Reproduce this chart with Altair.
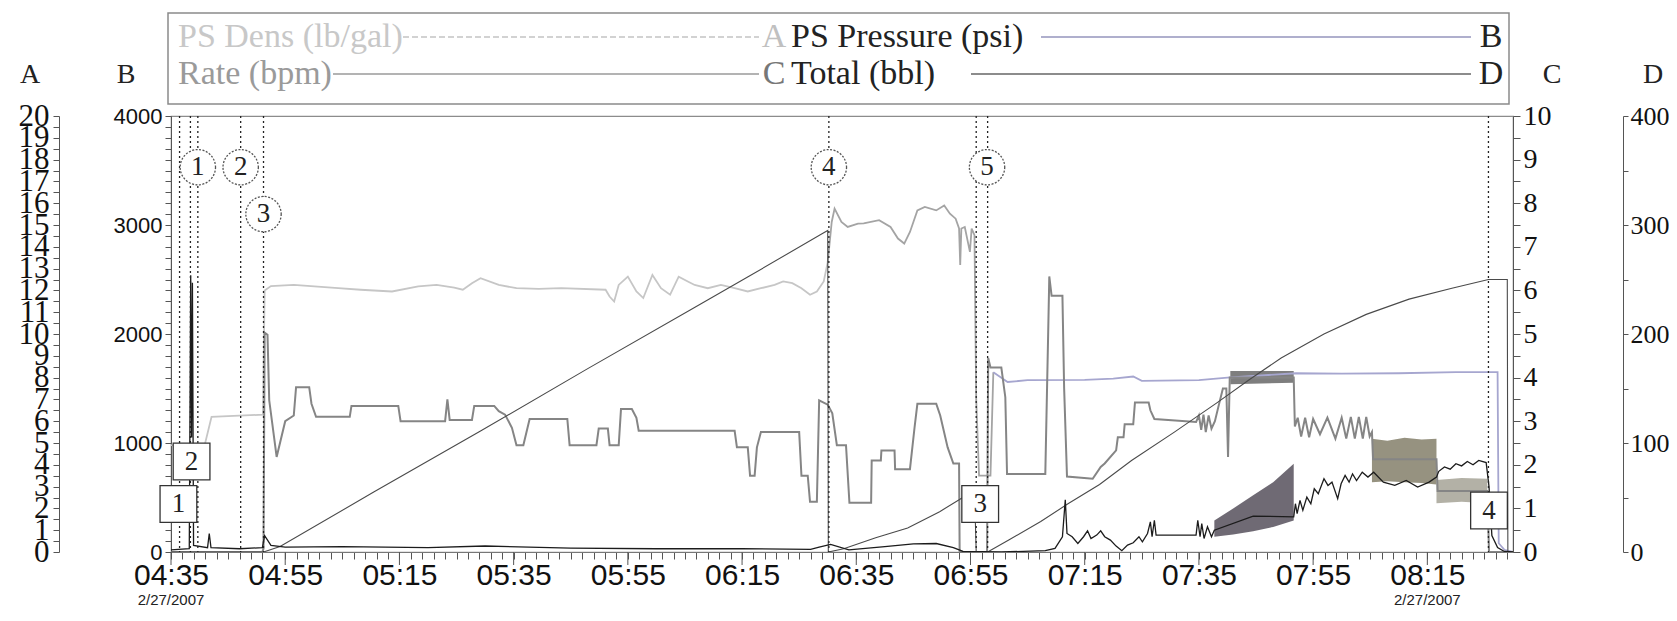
import altair as alt
import pandas as pd

T0 = 275  # 04:35 expressed in minutes after midnight

# ---------------- values ----------------
# all times: minutes after 04:35 on 2/27/2007
dens_lead_t = [0.0, 5.8, 7.1, 16.1, 16.4, 17.5, 21.5, 29.3, 33.2, 38.7, 43.3, 46.5, 49.6, 51.1, 52.7, 54.2,
               57.4, 60.5, 64.4, 68.3, 76.1, 76.8, 77.6, 78.4, 80.0, 81.5, 82.7, 84.3, 85.8, 87.4, 88.9, 90.5,
               91.7, 94.0, 96.3, 98.7, 101.0, 103.3, 105.7, 107.2, 108.8, 110.4, 111.9, 113.1, 114.3, 115.0]
dens_lead_v = [4.9, 4.8, 6.2, 6.3, 12.0, 12.2, 12.25, 12.1, 12.03, 11.95, 12.18, 12.25, 12.13, 12.03, 12.33, 12.56,
               12.25, 12.1, 12.07, 12.1, 12.03, 11.72, 11.49, 12.25, 12.63, 11.95, 11.65, 12.71, 12.1, 11.8, 12.63, 12.41,
               12.25, 12.1, 12.25, 12.1, 11.95, 12.1, 12.25, 12.41, 12.33, 12.1, 11.8, 11.95, 12.41, 13.3]
dens_tail_t = [115.0, 115.7, 116.2, 117.4, 118.5, 120.3, 121.3, 124.0, 126.0, 127.3, 128.4, 129.4, 130.7, 132.0,
               134.0, 135.4, 136.4, 137.4, 138.0, 138.2, 138.4, 139.0, 139.9, 140.2, 140.7, 141.0, 141.5, 143.5, 144.0]
dens_tail_v = [13.3, 15.14, 15.75, 15.14, 14.91, 15.06, 15.07, 15.22, 14.91, 14.38, 14.15, 14.68, 15.67, 15.83,
               15.67, 15.9, 15.52, 15.29, 14.84, 13.17, 14.84, 14.91, 13.77, 14.84, 14.53, 7.0, 3.5, 3.5, 8.25]
dens_water_t = [144.0, 146.5, 150.0, 160.0, 165.0, 168.5, 170.0, 180.0, 185.0, 197.0, 205.0, 215.0, 225.0,
                232.3, 232.5, 233.5, 235.0]
dens_water_v = [8.25, 7.8, 7.88, 7.9, 7.95, 8.05, 7.85, 7.88, 8.0, 8.2, 8.18, 8.2, 8.25, 8.25, 0.4, 0.1, 0.0]

pressure_pts = [
    (0.0, 20), (3.2, 30), (3.45, 2540), (3.6, 1050), (3.75, 2470), (3.95, 60), (6.4, 40), (6.7, 170), (7.0, 40),
    (12.0, 30), (16.0, 40), (16.4, 150), (17.5, 60), (20.0, 45), (30.0, 50), (45.0, 40), (55.0, 55), (70.0, 35),
    (85.0, 30), (100.0, 30), (112.0, 25), (113.5, 45), (115.5, 70), (118.7, 20), (125.0, 50), (130.0, 75),
    (134.0, 78), (137.0, 40), (138.7, 5), (145.4, 0), (153.1, 12), (154.8, 33), (156.1, 140), (156.6, 480),
    (156.9, 170), (157.8, 140), (158.8, 79), (159.8, 140), (160.5, 194), (161.1, 124), (162.1, 155), (162.8, 194),
    (163.5, 140), (164.5, 109), (165.5, 54), (166.5, 12), (167.5, 63), (168.5, 85), (169.5, 140), (170.1, 94),
    (171.0, 170), (171.5, 276), (171.8, 140), (172.2, 291), (172.5, 155), (179.5, 155), (179.8, 291), (180.2, 140),
    (180.5, 261), (180.9, 124), (181.5, 231), (182.2, 140), (182.7, 200), (189.5, 330), (196.6, 322), (196.9, 443),
    (197.2, 352), (197.7, 474), (198.2, 383), (198.9, 504), (199.6, 443), (200.2, 580), (200.9, 535), (201.9, 672),
    (202.6, 611), (203.3, 641), (204.3, 489), (204.9, 626), (205.6, 702), (206.3, 641), (206.9, 717), (207.6, 656),
    (208.6, 732), (209.6, 687), (210.6, 732), (212.3, 641), (214.3, 611), (216.3, 656), (218.3, 596), (220.3, 641),
    (221.6, 687), (222.0, 740), (223.0, 780), (224.0, 760), (225.0, 810), (226.0, 790), (227.0, 830), (228.0, 800),
    (229.0, 840), (230.3, 820), (230.8, 600), (231.3, 150), (232.3, 40), (233.5, 5), (235.0, 0)]

rate_pts = [
    (0.0, 0.0), (16.0, 0.0), (16.2, 0.08), (16.4, 5.03), (16.9, 4.98), (17.2, 3.48), (18.5, 2.18), (20.0, 3.0),
    (21.5, 3.13), (21.9, 3.78), (24.2, 3.78), (24.6, 3.4), (25.4, 3.1), (31.3, 3.1), (31.6, 3.35), (39.8, 3.35),
    (40.2, 3.0), (48.0, 3.0), (48.4, 3.5), (48.8, 3.03), (52.7, 3.03), (53.1, 3.35), (56.6, 3.35), (57.4, 3.23),
    (58.5, 3.15), (59.7, 2.85), (60.5, 2.45), (61.7, 2.45), (62.8, 3.05), (69.4, 3.05), (69.8, 2.45), (74.5, 2.45),
    (74.9, 2.83), (76.5, 2.83), (76.8, 2.45), (78.4, 2.45), (78.8, 3.28), (80.7, 3.28), (81.5, 3.08), (81.9, 2.78),
    (98.7, 2.78), (99.1, 2.4), (101.0, 2.4), (101.4, 1.75), (102.2, 1.75), (102.6, 2.4), (103.3, 2.75), (110.0, 2.75),
    (110.4, 1.75), (111.5, 1.75), (111.9, 1.15), (113.1, 1.15), (113.5, 3.48), (115.0, 3.38), (115.8, 3.18),
    (116.6, 2.45), (118.2, 2.45), (118.8, 1.13), (122.6, 1.13), (122.7, 2.1), (124.3, 2.1), (124.4, 2.33),
    (126.7, 2.33), (126.8, 1.9), (129.4, 1.9), (130.2, 2.85), (130.7, 3.4), (134.0, 3.4), (134.7, 3.13), (136.0, 2.4),
    (137.0, 2.03), (138.0, 2.03), (138.1, 0.0), (142.9, 0.0), (143.1, 4.45), (143.5, 4.23), (145.4, 4.23),
    (146.1, 3.55), (146.4, 1.79), (153.1, 1.79), (153.6, 5.0), (153.8, 6.32), (154.2, 5.88), (156.1, 5.88),
    (156.4, 3.75), (156.9, 1.73), (161.4, 1.68), (162.8, 1.95), (163.5, 2.03), (165.5, 2.33), (165.8, 2.63),
    (166.8, 2.63), (167.0, 2.93), (168.5, 2.93), (168.8, 3.43), (171.2, 3.43), (171.5, 3.25), (172.2, 3.05),
    (179.5, 2.98), (180.0, 3.13), (180.4, 2.8), (180.8, 3.15), (181.2, 2.75), (181.7, 3.13), (182.2, 2.83),
    (182.8, 3.0), (183.5, 3.38), (184.2, 3.75), (184.8, 3.75), (185.1, 2.18), (185.4, 4.0), (196.6, 4.0),
    (196.8, 2.88), (197.3, 3.08), (197.9, 2.65), (198.6, 3.08), (199.3, 2.63), (200.0, 3.05), (201.2, 2.7),
    (202.5, 3.08), (203.9, 2.6), (205.0, 3.08), (205.8, 2.6), (206.6, 3.1), (207.3, 2.6), (208.0, 3.1),
    (208.7, 2.6), (209.3, 3.1), (209.9, 2.65), (210.3, 2.75), (210.5, 2.13), (221.6, 2.13), (221.8, 1.4),
    (230.5, 1.4), (230.8, 0.0), (235.0, 0.0)]

total_pts = [
    (0.0, 0), (16.2, 0), (19.1, 5), (35.5, 55), (54.2, 111), (72.9, 168), (91.6, 224), (100.9, 252), (114.0, 292),
    (115.0, 295), (115.1, 0), (117.8, 3), (123.4, 13), (129.0, 22), (134.6, 37), (139.3, 52), (140.7, 57),
    (141.0, 0), (143.0, 0), (146.7, 11), (152.3, 28), (157.0, 44), (162.6, 62), (168.2, 84), (175.7, 110),
    (183.2, 137), (188.8, 158), (194.4, 178), (201.9, 200), (209.3, 218), (216.8, 232), (224.3, 242),
    (230.7, 250), (234.0, 250), (234.1, 0), (235.0, 0)]

# dense oscillation bands (bpm): group, time, low, high
rate_bands = [("b1", 185.5, 3.85, 4.15), ("b1", 196.6, 3.88, 4.15),
              ("b2", 210.3, 1.6, 2.6), ("b2", 213.0, 1.62, 2.55), ("b2", 216.0, 1.6, 2.62),
              ("b2", 219.0, 1.58, 2.58), ("b2", 221.6, 1.55, 2.6),
              ("b3", 221.6, 1.12, 1.65), ("b3", 226.0, 1.15, 1.7), ("b3", 230.5, 1.12, 1.68)]
# pressure oscillation band (psi): time, low, high
pressure_band = [(182.7, 140, 290), (186.0, 160, 400), (189.5, 190, 520), (193.0, 230, 640), (196.6, 290, 810)]

event_t = [1.5, 3.4, 4.7, 12.2, 16.2, 115.2, 141.0, 143.0, 230.7]
circle_lab = ["1", "2", "3", "4", "5"]
circle_t = [4.7, 12.2, 16.2, 115.2, 142.9]
circle_psi = [3530, 3530, 3100, 3530, 3530]
box_lab = ["1", "2", "3", "4"]
box_t = [1.3, 3.6, 141.7, 230.8]
box_psi = [440, 830, 440, 380]

major_ticks = [275, 295, 315, 335, 355, 375, 395, 415, 435, 455, 475, 495]
date_ticks = [275, 495]
date_text = "2/27/2007"

# ---------------- styling ----------------
W, H = 1342, 436
SANS = "Liberation Sans"
SERIF = "Liberation Serif"

XS = alt.Scale(domain=[275, 510], nice=False, zero=False)
hm = ("(floor(datum.value/60) < 10 ? '0' : '') + floor(datum.value/60) + ':' + "
      "(datum.value % 60 < 10 ? '0' : '') + (datum.value % 60)")
XAXIS = alt.Axis(values=list(range(275, 511, 2)),
                 labelExpr="(datum.value - 275) % 20 == 0 ? " + hm + " : ''",
                 tickSize=7, tickColor="#555", domainColor="#777", labelFont=SANS, labelFontSize=30,
                 labelColor="#111", labelPadding=1, labelOverlap=False, labelFlush=False, grid=False, title=None)


def X():
    return alt.X("m:Q", scale=XS, axis=XAXIS)


def Y(field, dom, axis=None):
    return alt.Y(field, type="quantitative", scale=alt.Scale(domain=dom, nice=False, zero=False), axis=axis)


def yaxis(orient, offset, values, expr, font, size, tick, pad):
    return alt.Axis(orient=orient, offset=offset, values=values, labelExpr=expr, labelFont=font,
                    labelFontSize=size, labelColor="#111", tickColor="#555", domainColor="#555",
                    tickSize=tick, labelPadding=pad, labelOverlap=False, labelFlush=False, grid=False, title=None)


axA = yaxis("left", 112, [i * 0.5 for i in range(41)], "datum.value % 1 == 0 ? format(datum.value, 'd') : ''",
            SERIF, 31, 6, 4)
axB = yaxis("left", 0, list(range(0, 4001, 100)), "datum.value % 1000 == 0 ? format(datum.value, 'd') : ''",
            SANS, 22, 6, 3)
axC = yaxis("right", 0, [i * 0.5 for i in range(21)], "datum.value % 1 == 0 ? format(datum.value, 'd') : ''",
            SERIF, 28, 7, 3)
axD = yaxis("right", 110, list(range(0, 401, 50)), "datum.value % 100 == 0 ? format(datum.value, 'd') : ''",
            SERIF, 26, 5, 2)


def series(ts, vs):
    return pd.DataFrame({"m": [T0 + t for t in ts], "v": vs})


def pts(p):
    return series([a for a, _ in p], [b for _, b in p])


A_DOM, B_DOM, C_DOM, D_DOM = [0, 20], [0, 4000], [0, 10], [0, 400]

layers = []

# bands
rb = pd.DataFrame(rate_bands, columns=["g", "t", "lo", "hi"])
rb["m"] = T0 + rb["t"]
layers.append(alt.Chart(rb).mark_area(opacity=0.9, clip=True).encode(
    x=X(), y=Y("lo", C_DOM), y2="hi",
    color=alt.Color("g:N", scale=alt.Scale(domain=["b1", "b2", "b3"], range=["#707070", "#8b8672", "#aba99c"]),
                    legend=None)))
pb = pd.DataFrame(pressure_band, columns=["t", "lo", "hi"])
pb["m"] = T0 + pb["t"]
layers.append(alt.Chart(pb).mark_area(color="#56505c", opacity=0.85, clip=True).encode(
    x=X(), y=Y("lo", B_DOM), y2="hi"))

# density (A axis)
layers.append(alt.Chart(series(dens_lead_t, dens_lead_v)).mark_line(color="#c6c6c6", strokeWidth=1.8, clip=True).encode(
    x=X(), y=Y("v", A_DOM, axA)))
layers.append(alt.Chart(series(dens_tail_t, dens_tail_v)).mark_line(color="#a4a4a4", strokeWidth=1.8, clip=True).encode(
    x=X(), y=Y("v", A_DOM)))
layers.append(alt.Chart(series(dens_water_t, dens_water_v)).mark_line(color="#a6a6cf", strokeWidth=1.8, clip=True).encode(
    x=X(), y=Y("v", A_DOM)))
# rate (C axis)
layers.append(alt.Chart(pts(rate_pts)).mark_line(color="#858585", strokeWidth=2, clip=True).encode(
    x=X(), y=Y("v", C_DOM, axC)))
# total (D axis)
layers.append(alt.Chart(pts(total_pts)).mark_line(color="#4a4a4a", strokeWidth=1.1, clip=True).encode(
    x=X(), y=Y("v", D_DOM, axD)))
# pressure (B axis)
layers.append(alt.Chart(pts(pressure_pts)).mark_line(color="#1c1c1c", strokeWidth=1.3, clip=True).encode(
    x=X(), y=Y("v", B_DOM, axB)))

# event markers
layers.append(alt.Chart(pd.DataFrame({"m": [T0 + t for t in event_t]})).mark_rule(
    color="#222", strokeDash=[2, 3], strokeWidth=1.3).encode(x=X()))

circ = pd.DataFrame({"m": [T0 + t for t in circle_t], "v": circle_psi, "lab": circle_lab})
layers.append(alt.Chart(circ).mark_point(shape="circle", size=1250, filled=True, color="white", opacity=1,
                                         stroke="#555", strokeWidth=1.3, strokeDash=[2, 1.5]).encode(
    x=X(), y=Y("v", B_DOM)))
layers.append(alt.Chart(circ).mark_text(font=SERIF, fontSize=27, color="#222", baseline="middle").encode(
    x=X(), y=Y("v", B_DOM), text="lab:N"))

boxes = pd.DataFrame({"m": [T0 + t for t in box_t], "v": box_psi, "lab": box_lab})
layers.append(alt.Chart(boxes).mark_point(shape="square", size=1350, filled=True, color="white", opacity=1,
                                          stroke="#333", strokeWidth=1.3).encode(x=X(), y=Y("v", B_DOM)))
layers.append(alt.Chart(boxes).mark_text(font=SERIF, fontSize=27, color="#222", baseline="middle").encode(
    x=X(), y=Y("v", B_DOM), text="lab:N"))

# longer major x ticks and date labels
layers.append(alt.Chart(pd.DataFrame({"m": major_ticks})).mark_rule(color="#555").encode(
    x=X(), y=alt.value(H), y2=alt.value(H + 13)))
layers.append(alt.Chart(pd.DataFrame({"m": date_ticks, "d": [date_text] * len(date_ticks)})).mark_text(
    font=SANS, fontSize=15, color="#222", baseline="middle").encode(x=X(), y=alt.value(H + 48), text="d:N"))

# legend box and axis letters
one = pd.DataFrame({"a": [0]})


def txt(s, x, y, color, size=34, align="left", font=SERIF):
    return alt.Chart(one).mark_text(text=s, font=font, fontSize=size, color=color, align=align,
                                    baseline="middle").encode(x=alt.value(x), y=alt.value(y))


def seg(x1, x2, y, color, dash=None):
    kw = dict(color=color, strokeWidth=1.5)
    if dash:
        kw["strokeDash"] = dash
    return alt.Chart(one).mark_rule(**kw).encode(x=alt.value(x1), x2=alt.value(x2), y=alt.value(y))


layers.append(alt.Chart(one).mark_rect(fillOpacity=0, stroke="#8a8a8a", strokeWidth=1.5).encode(
    x=alt.value(-3), x2=alt.value(W - 4), y=alt.value(-103), y2=alt.value(-12)))
R1, R2 = -79, -42
layers += [
    txt("PS Dens (lb/gal)", 7, R1, "#c8c8c8"), seg(232, 588, R1, "#c4c4c4", [6, 3]),
    txt("A", 603, R1, "#c0c0c0", align="center"),
    txt("PS Pressure (psi)", 620, R1, "#222"), seg(870, 1300, R1, "#9494bd"),
    txt("B", 1320, R1, "#222", align="center"),
    txt("Rate (bpm)", 7, R2, "#9a9a9a"), seg(162, 588, R2, "#9a9a9a"),
    txt("C", 603, R2, "#777", align="center"),
    txt("Total (bbl)", 620, R2, "#222"), seg(800, 1300, R2, "#666"),
    txt("D", 1320, R2, "#222", align="center"),
    txt("A", -141, -41, "#222", 28, "center"), txt("B", -45, -41, "#222", 28, "center"),
    txt("C", 1381, -41, "#222", 28, "center"), txt("D", 1482, -41, "#222", 28, "center"),
]

chart = alt.layer(*layers).resolve_scale(y="independent").properties(
    width=W, height=H,
    padding={"left": 163, "top": 108, "right": 156, "bottom": 61},
    autosize=alt.AutoSizeParams(type="none"),
).configure_view(stroke="#8c8c8c", strokeWidth=1.2)

chart.save("out.html", embed_options={"renderer": "svg", "actions": False})
